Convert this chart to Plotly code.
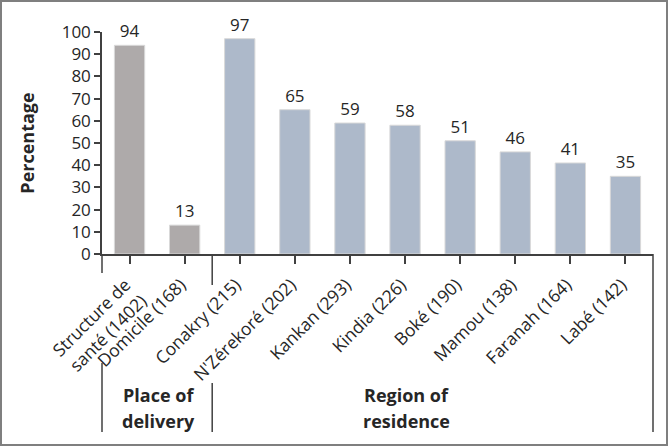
import plotly.graph_objects as go

categories = ["Structure de<br>santé (1402)", "Domicile (168)", "Conakry (215)", "N'Zérekoré (202)",
              "Kankan (293)", "Kindia (226)", "Boké (190)", "Mamou (138)", "Faranah (164)", "Labé (142)"]
values = [94, 13, 97, 65, 59, 58, 51, 46, 41, 35]
groups = ["delivery", "delivery", "region", "region", "region", "region", "region", "region", "region", "region"]
group_colors = {"delivery": "#AEAAAA", "region": "#ADB9CA"}
y_ticks = list(range(0, 101, 10))

W, H = 670, 448
ML, MR, MT, MB = 102, 17, 32, 194
PW, PH = W - ML - MR, H - MT - MB

def px(x):
    return (x - ML) / PW

def py(y):
    return (H - MB - y) / PH

TXT = "#262626"
LINE = "#404040"
FONT = "Open Sans"

fig = go.Figure()
fig.add_trace(go.Bar(
    x=list(range(len(categories))), y=values,
    marker=dict(color=[group_colors[g] for g in groups], line=dict(color="#D9D9D9", width=1)),
    text=[str(v) for v in values], textposition="outside", cliponaxis=False,
    textfont=dict(family=FONT, size=17, color=TXT),
    width=0.55,
))

shapes = []
# outer frame
shapes.append(dict(type="rect", xref="paper", yref="paper", x0=px(1), x1=px(667), y0=py(1), y1=py(445),
                   line=dict(color="#7F7F7F", width=2)))
# multi-level category separators
for x_, segs in [(0.0, [(254, 273), (363, 432)]), (0.2, [(254, 285), (383, 432)]), (1.0, [(254, 432)])]:
    for a, b in segs:
        shapes.append(dict(type="line", xref="paper", yref="paper", x0=x_, x1=x_, y0=py(a), y1=py(b),
                           line=dict(color=LINE, width=1.5)))

annotations = []
for txt, xc, yc in [("Place of", 158, 395), ("delivery", 158, 421), ("Region of", 406, 395), ("residence", 406, 421)]:
    annotations.append(dict(text="<b>%s</b>" % txt, xref="paper", yref="paper", x=px(xc), y=py(yc),
                            xanchor="center", yanchor="middle", showarrow=False,
                            font=dict(family=FONT, size=18, color=TXT)))

fig.update_layout(
    width=W, height=H, margin=dict(l=ML, r=MR, t=MT, b=MB),
    paper_bgcolor="white", plot_bgcolor="white", showlegend=False,
    font=dict(family=FONT, color=TXT),
    shapes=shapes, annotations=annotations,
    xaxis=dict(range=[-0.5, len(categories) - 0.5], tickmode="array", tickvals=list(range(len(categories))),
               ticktext=categories, tickangle=-45, ticks="outside", tickson="boundaries", ticklen=8,
               tickcolor=LINE, tickwidth=1.5, showline=True, linecolor=LINE, linewidth=1.5,
               ticklabelstandoff=4, ticklabelshift=-4,
               showgrid=False, zeroline=False, tickfont=dict(family=FONT, size=17.5, color=TXT)),
    yaxis=dict(range=[0, 100], tickvals=y_ticks, ticks="outside", ticklen=6, tickcolor=LINE, tickwidth=1.5,
               showline=True, linecolor=LINE, linewidth=1.5, showgrid=False, zeroline=False,
               tickfont=dict(family=FONT, size=17, color=TXT),
               title=dict(text="<b>Percentage</b>", font=dict(family=FONT, size=18, color=TXT), standoff=22)),
)

fig.write_html("out.html")
